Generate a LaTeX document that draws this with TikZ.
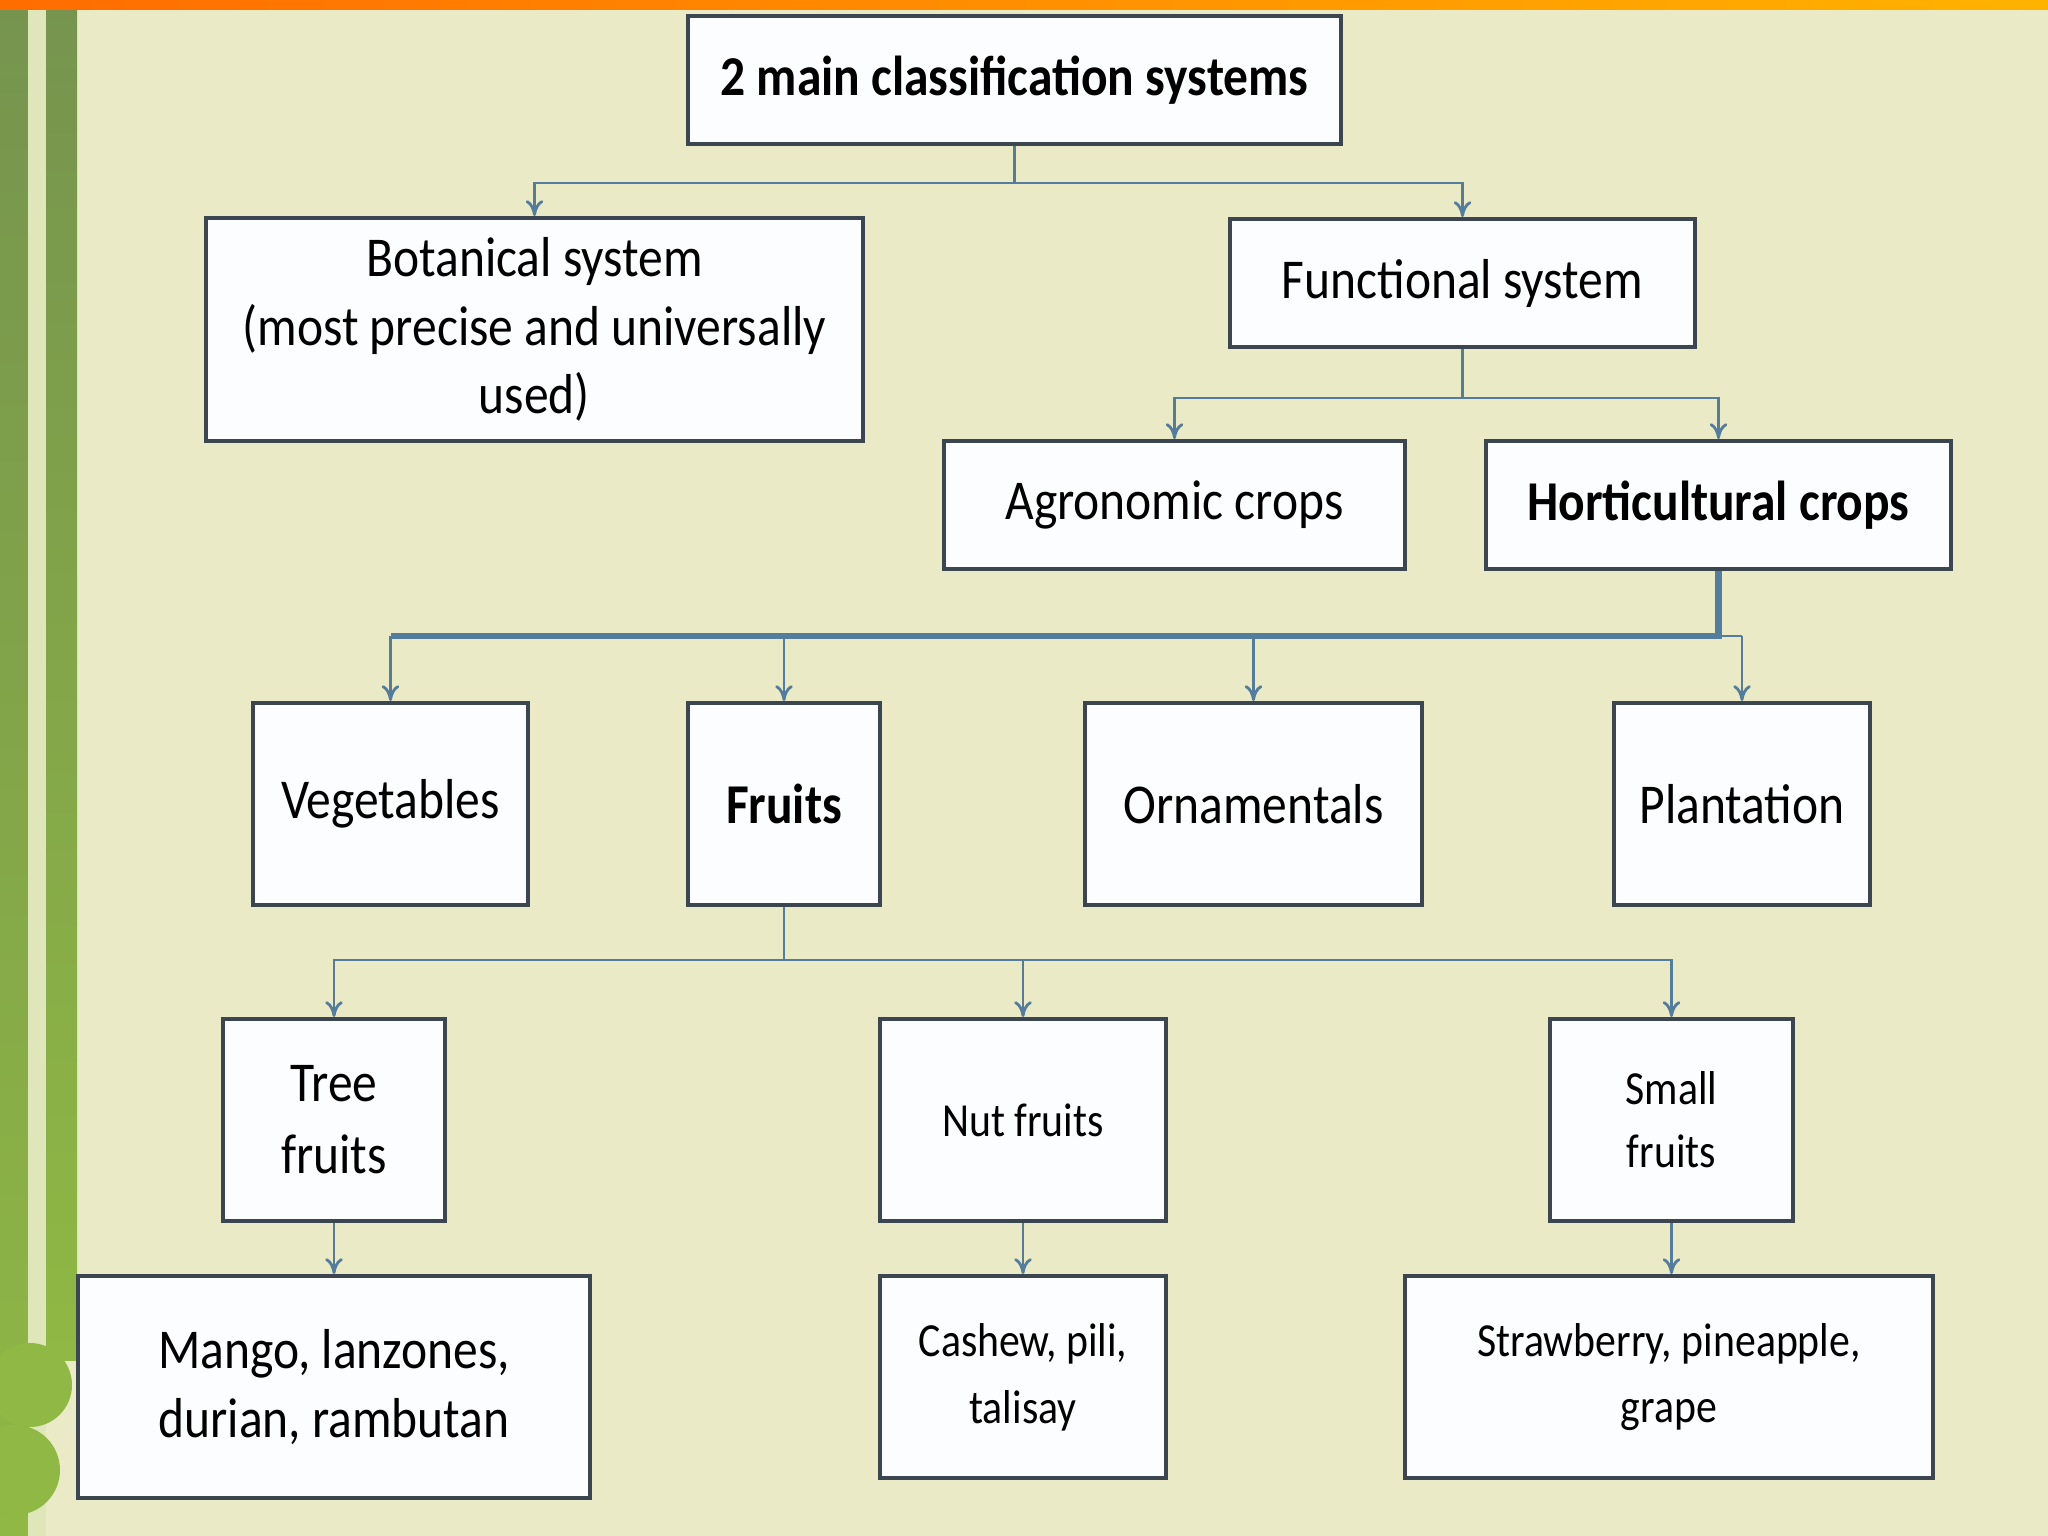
\documentclass[tikz,border=0pt]{standalone}
\usepackage{fontspec}
\setmainfont{Carlito}[FakeStretch=0.88]
\usetikzlibrary{arrows.meta}

\definecolor{paper}{RGB}{234,235,198}
\definecolor{olive}{RGB}{118,148,78}
\definecolor{leaf}{RGB}{143,184,68}
\definecolor{stripe}{RGB}{222,230,186}
\definecolor{rim}{RGB}{60,70,80}
\definecolor{wire}{RGB}{84,124,156}
\definecolor{boxfill}{RGB}{251,253,254}

\tikzset{
	box/.style={draw=rim, line width=1.1pt, fill=boxfill, inner sep=0pt, align=center,
		font=\fontsize{16}{19.5}\selectfont},
	smallbox/.style={box, font=\fontsize{13.5}{19}\selectfont},
	link/.style={draw=wire, line width=0.8pt},
	thicklink/.style={draw=wire, line width=1.8pt},
	tip/.style={-{To[length=4.5pt,width=5pt]}}
}

\begin{document}
\begin{tikzpicture}[x=0.01cm, y=-0.01cm]
			%%%%% START %%%%%
			
			\useasboundingbox (0,0) rectangle (2048,1536);
			\fill[paper] (0,0) rectangle (2048,1536);
			
			% left bars and top strip
			\shade[top color=olive, bottom color=leaf] (0,0) rectangle (28,1536);
			\fill[stripe] (28,0) rectangle (46,1536);
			\shade[top color=olive, bottom color=leaf] (46,0) rectangle (77,1360);
			\fill[leaf] (30,1385) circle (42);
			\fill[leaf] (15,1470) circle (45);
			\shade[left color=orange!85!red, right color=orange!60!yellow] (0,0) rectangle (2048,9);
			
			% boxes
			\node[box, minimum width=6.53cm, minimum height=1.28cm] (root) at (1014.5,80) {\bfseries 2 main classification systems};
			\node[box, minimum width=6.57cm, minimum height=2.23cm] (bot) at (534.5,329.5) {Botanical system\\(most precise and universally\\used)};
			\node[box, minimum width=4.65cm, minimum height=1.28cm] (func) at (1462.5,283) {Functional system};
			\node[box, minimum width=4.61cm, minimum height=1.28cm] (agro) at (1174.5,505) {Agronomic crops};
			\node[box, minimum width=4.65cm, minimum height=1.28cm] (hort) at (1718.5,505) {\bfseries Horticultural crops};
			
			\node[box, minimum width=2.75cm, minimum height=2.02cm] (veg) at (390.5,804) {Vegetables};
			\node[box, minimum width=1.92cm, minimum height=2.02cm] (fruit) at (784,804) {\bfseries Fruits};
			\node[box, minimum width=3.37cm, minimum height=2.02cm] (orn) at (1253.5,804) {Ornamentals};
			\node[box, minimum width=2.56cm, minimum height=2.02cm] (plant) at (1742,804) {Plantation};
			
			\node[box, minimum width=2.22cm, minimum height=2.02cm, font=\fontsize{16}{20.5}\selectfont] (tree) at (334,1120) {Tree\\fruits};
			\node[smallbox, minimum width=2.86cm, minimum height=2.02cm] (nut) at (1023,1120) {Nut fruits};
			\node[smallbox, minimum width=2.43cm, minimum height=2.02cm, font=\fontsize{13.5}{18}\selectfont] (small) at (1671.5,1120) {Small\\fruits};
			
			\node[box, minimum width=5.12cm, minimum height=2.22cm] (mango) at (334,1387) {Mango, lanzones,\\durian, rambutan};
			\node[smallbox, minimum width=2.86cm, minimum height=2.02cm] (cashew) at (1023,1377) {Cashew, pili,\\talisay};
			\node[smallbox, minimum width=5.28cm, minimum height=2.02cm] (straw) at (1669,1377) {Strawberry, pineapple,\\grape};
			
			% bus levels
			\coordinate (rootbus) at (0,183);
			\coordinate (funcbus) at (0,398);
			\coordinate (hortbus) at (0,636);
			\coordinate (fruitbus) at (0,960);
			
			\draw[link] (root.south) -- (root.south |- rootbus);
			\draw[link, tip] (root.south |- rootbus) -| (bot.north);
			\draw[link, tip] (root.south |- rootbus) -| (func.north);
			
			\draw[link] (func.south) -- (func.south |- funcbus);
			\draw[link, tip] (func.south |- funcbus) -| (agro.north);
			\draw[link, tip] (func.south |- funcbus) -| (hort.north);
			
			\draw[thicklink] (hort.south) -- (hort.south |- hortbus) -- (veg.north |- hortbus);
			\draw[link] (hort.south |- hortbus) -- (plant.north |- hortbus);
			\draw[link, tip] (veg.north |- hortbus) -- (veg.north);
			\draw[link, tip] (fruit.north |- hortbus) -- (fruit.north);
			\draw[link, tip] (orn.north |- hortbus) -- (orn.north);
			\draw[link, tip] (plant.north |- hortbus) -- (plant.north);
			
			\draw[link] (fruit.south) -- (fruit.south |- fruitbus);
			\draw[link, tip] (fruit.south |- fruitbus) -| (tree.north);
			\draw[link, tip] (fruit.south |- fruitbus) -| (nut.north);
			\draw[link, tip] (fruit.south |- fruitbus) -| (small.north);
			
			\draw[link, tip] (tree.south) -- (mango.north);
			\draw[link, tip] (nut.south) -- (cashew.north);
			\draw[link, tip] (small.south) -- (small.south |- straw.north);
			
			%%%%% END %%%%%
\end{tikzpicture}
\end{document}
